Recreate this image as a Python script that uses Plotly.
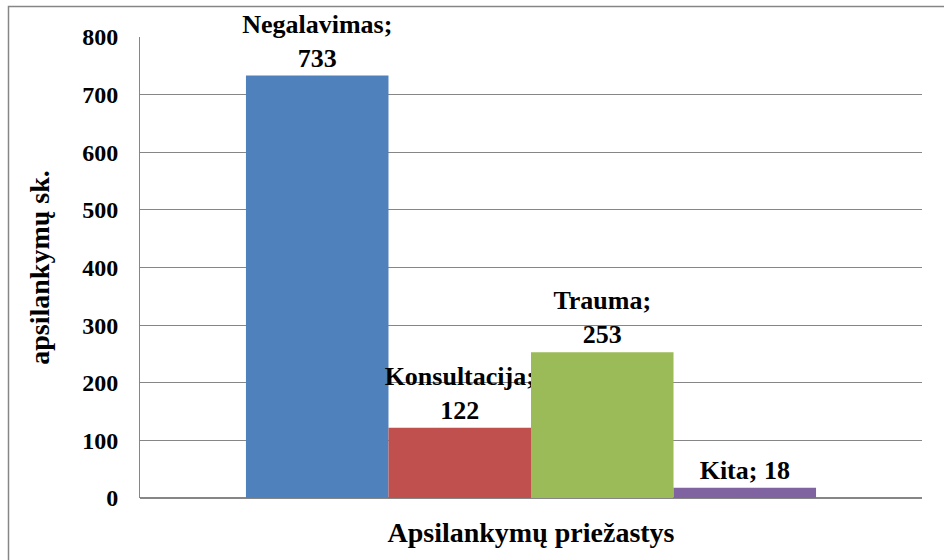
import plotly.graph_objects as go

category = ["Apsilankymų priežastys"]
series_names = ["Negalavimas", "Konsultacija", "Trauma", "Kita"]
series_values = [733, 122, 253, 18]
series_colors = ["#4F81BD", "#C0504D", "#9BBB59", "#8064A2"]
label_texts = ["Negalavimas;<br>733", "Konsultacija;<br>122", "Trauma;<br>253", "Kita; 18"]
y_ticks = [0, 100, 200, 300, 400, 500, 600, 700, 800]

FONT = "Liberation Serif, Times New Roman, serif"

fig = go.Figure()
for name, val, col, lab in zip(series_names, series_values, series_colors, label_texts):
    fig.add_trace(go.Bar(
        x=category, y=[val], name=name,
        marker=dict(color=col, line=dict(width=0)),
        text=[lab], textposition="outside", constraintext="none",
        cliponaxis=False,
        textfont=dict(family=FONT, size=26, color="black", weight="bold"),
        hoverinfo="skip",
    ))

W, H = 944, 560
L, R, T, B = 140, 22, 37, 62
pw, ph = W - L - R, H - T - B

fig.update_layout(
    width=W, height=H,
    margin=dict(l=L, r=R, t=T, b=B),
    paper_bgcolor="white", plot_bgcolor="white",
    barmode="group", bargap=0.271, bargroupgap=0,
    showlegend=False,
    font=dict(family=FONT, color="black"),
    xaxis=dict(
        automargin=False,
        showticklabels=False, showgrid=False, zeroline=False,
        showline=False,
        title=dict(text="Apsilankymų priežastys", standoff=24,
                   font=dict(family=FONT, size=28, weight="bold")),
    ),
    yaxis=dict(
        automargin=False,
        range=[0, 800], tickvals=y_ticks, ticks="",
        showgrid=True, gridcolor="#868686", gridwidth=1,
        showline=True, linecolor="#868686", linewidth=1,
        zeroline=True, zerolinecolor="#868686", zerolinewidth=2,
        tickfont=dict(family=FONT, size=24, weight="bold"),
        ticklabelstandoff=16,
        title=dict(text="apsilankymų sk.", standoff=24,
                   font=dict(family=FONT, size=28, weight="bold")),
    ),
    shapes=[dict(
        type="rect", xref="paper", yref="paper",
        x0=(8.5 - L) / pw, x1=2.0,
        y0=-1.0, y1=1 + (T - 6.5) / ph,
        line=dict(color="#868686", width=1.5), fillcolor="rgba(0,0,0,0)",
        layer="below",
    )],
)

fig.write_html("out.html", config={"displayModeBar": False},
               post_script="document.body.style.margin='0';")
